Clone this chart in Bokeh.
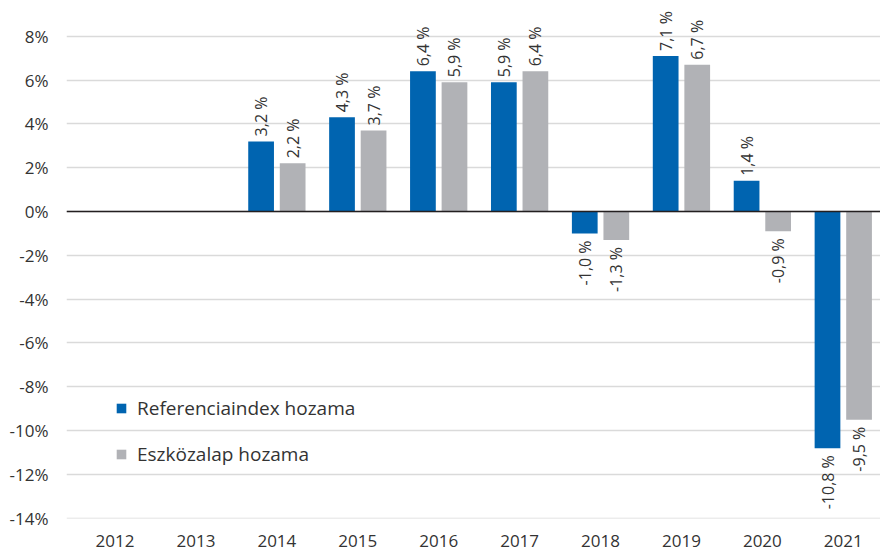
import math
from bokeh.plotting import figure
from bokeh.models import (ColumnDataSource, Range1d, FixedTicker, PrintfTickFormatter,
                          Span, Legend, LegendItem)
from bokeh.transform import dodge
from bokeh.core.properties import value
from bokeh.embed import file_html
from bokeh.resources import INLINE

years = ["2012", "2013", "2014", "2015", "2016", "2017", "2018", "2019", "2020", "2021"]
ref_returns = [float("nan"), float("nan"), 3.2, 4.3, 6.4, 5.9, -1.0, 7.1, 1.4, -10.8]
fund_returns = [float("nan"), float("nan"), 2.2, 3.7, 5.9, 6.4, -1.3, 6.7, -0.9, -9.5]
y_ticks = list(range(-14, 9, 2))

series_names = ["Referenciaindex hozama", "Eszközalap hozama"]
colors = ["#0064b0", "#b1b2b6"]
FONT = "Open Sans"
TXT = "#333333"

xs = list(range(len(years)))

p = figure(width=880, height=550, output_backend="svg", toolbar_location=None,
           x_range=Range1d(-0.6, 9.46), y_range=Range1d(-14.01, 9.63),
           min_border_left=66, min_border_right=0, min_border_top=0, min_border_bottom=32)
p.outline_line_color = None
p.background_fill_color = "white"
p.border_fill_color = "white"

offsets = [-0.195, 0.195]
renderers = []


def fmt(v):
    return f"{v:.1f}".replace(".", ",") + " %"


for vals, off, col in zip([ref_returns, fund_returns], offsets, colors):
    src = ColumnDataSource(dict(x=xs, top=vals))
    r = p.vbar(x=dodge("x", off, range=p.x_range), top="top", bottom=0, width=0.318,
               source=src, fill_color=col, line_color=None)
    renderers.append(r)

    pos = dict(x=[], y=[], t=[])
    neg = dict(x=[], y=[], t=[])
    for xi, v in zip(xs, vals):
        if v != v:
            continue
        d = pos if v >= 0 else neg
        d["x"].append(xi)
        d["y"].append(v)
        d["t"].append(fmt(v))
    p.text(x=dodge("x", off, range=p.x_range), y="y", text="t", source=ColumnDataSource(pos),
           angle=math.pi / 2, text_align="left", text_baseline="middle", y_offset=-5,
           text_font=value(FONT), text_font_size="16px", text_color=TXT)
    p.text(x=dodge("x", off, range=p.x_range), y="y", text="t", source=ColumnDataSource(neg),
           angle=math.pi / 2, text_align="right", text_baseline="middle", y_offset=7,
           text_font=value(FONT), text_font_size="16px", text_color=TXT)

p.add_layout(Span(location=0, dimension="width", line_color="#231f20", line_width=1.5))

# axes
p.xaxis.ticker = FixedTicker(ticks=xs)
p.xaxis.major_label_overrides = {i: y for i, y in zip(xs, years)}
p.xaxis.axis_line_color = None
p.xaxis.major_tick_line_color = None
p.xaxis.minor_tick_line_color = None
p.xaxis.major_label_standoff = 10
p.xaxis.major_label_text_font = FONT
p.xaxis.major_label_text_font_size = "17px"
p.xaxis.major_label_text_color = TXT

p.yaxis.ticker = FixedTicker(ticks=y_ticks)
p.yaxis.formatter = PrintfTickFormatter(format="%d%%")
p.yaxis.axis_line_color = None
p.yaxis.major_tick_line_color = None
p.yaxis.minor_tick_line_color = None
p.yaxis.major_label_standoff = 12
p.yaxis.major_label_text_font = FONT
p.yaxis.major_label_text_font_size = "17px"
p.yaxis.major_label_text_color = TXT

p.xgrid.visible = False
p.ygrid.ticker = FixedTicker(ticks=y_ticks)
p.ygrid.grid_line_color = "#dadada"
p.ygrid.grid_line_width = 1.5

legend = Legend(items=[LegendItem(label=n, renderers=[r]) for n, r in zip(series_names, renderers)],
                location=(49, 51), orientation="vertical")
legend.background_fill_alpha = 0
legend.border_line_color = None
legend.padding = 0
legend.margin = 0
legend.glyph_width = 12
legend.glyph_height = 12
legend.label_standoff = 10
legend.spacing = 20
legend.label_text_font = FONT
legend.label_text_font_size = "19px"
legend.label_text_color = TXT
p.add_layout(legend)

open("out.html", "w").write(file_html(p, INLINE))
